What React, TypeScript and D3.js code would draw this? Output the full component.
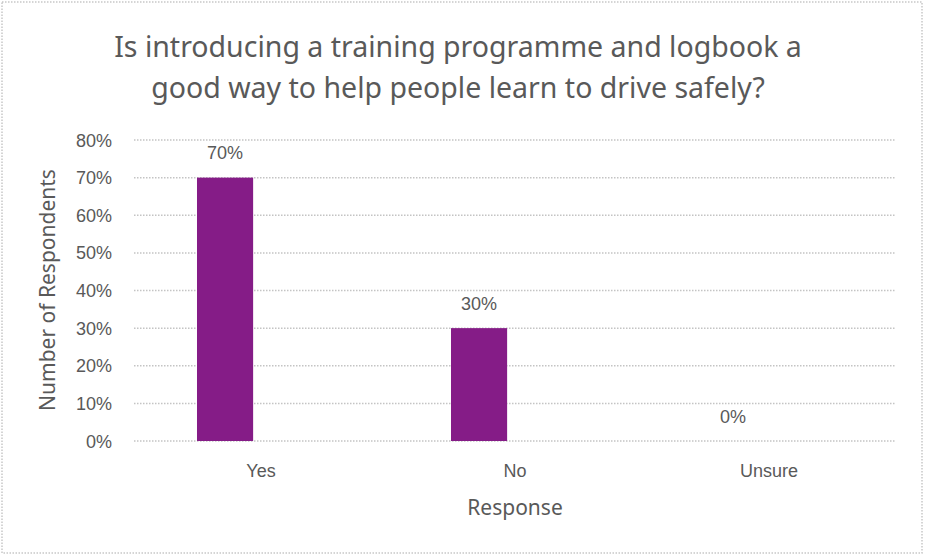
import * as React from 'react';
import { scaleBand, scaleLinear } from 'd3';

const categories = ['Yes', 'No', 'Unsure'];
const values = [0.7, 0.3, 0];
const yTicks = [0, 0.1, 0.2, 0.3, 0.4, 0.5, 0.6, 0.7, 0.8];
const titleLines = [
    'Is introducing a training programme and logbook a',
    'good way to help people learn to drive safely?'
];

const W = 925;
const H = 556;
const plot = { left: 134, right: 896, top: 140, bottom: 441 };
const textColor = '#595959';
const titleFont = '"Noto Sans", "Open Sans", sans-serif';
const tickFont = '"Liberation Sans", Arial, sans-serif';

const xScale = scaleBand<string>()
    .domain(categories)
    .range([plot.left, plot.right]);

const yScale = scaleLinear()
    .domain([0, 0.8])
    .range([plot.bottom, plot.top]);

// bars sit in the left slot of each category (second series is empty)
const barOffset = 0.248;
const barWidth = 0.221;

const pct = (v: number) => `${Math.round(v * 100)}%`;

export default function App() {
    const bw = xScale.bandwidth();
    return (
        <svg width={W} height={H} style={{ position: 'absolute', left: 0, top: 0, background: '#fff' }}>
            <rect x={2} y={2} width={W - 5} height={H - 5} fill="#fff" stroke="#c8c8c8" strokeWidth={1.5} strokeDasharray="1.5,1.5" />
            <g fontFamily={titleFont} fill={textColor} fontSize={28.5} textAnchor="middle">
                {titleLines.map((t, i) => (
                    <text key={i} x={458} y={57 + i * 41}>{t}</text>
                ))}
            </g>
            <g>
                {yTicks.map(t => (
                    <g key={t}>
                        <line x1={plot.left} x2={plot.right} y1={yScale(t)} y2={yScale(t)}
                            stroke="#c4c4c4" strokeWidth={1.5} strokeDasharray="1.5,1.5" />
                        <text x={112} y={yScale(t) + 6.5} textAnchor="end" fontFamily={tickFont}
                            fontSize={18} fill={textColor}>{pct(t)}</text>
                    </g>
                ))}
            </g>
            <g>
                {categories.map((c, i) => {
                    const x0 = xScale(c)! + bw * barOffset;
                    const w = bw * barWidth;
                    const y0 = yScale(values[i]);
                    return (
                        <g key={c}>
                            <rect x={x0} y={y0} width={w} height={plot.bottom - y0} fill="#851c87" />
                            <text x={x0 + w / 2} y={y0 - 18.5} textAnchor="middle" fontFamily={tickFont}
                                fontSize={18} fill={textColor}>{pct(values[i])}</text>
                            <text x={xScale(c)! + bw / 2} y={477} textAnchor="middle" fontFamily={tickFont}
                                fontSize={18} fill={textColor}>{c}</text>
                        </g>
                    );
                })}
            </g>
            <text x={515} y={515} textAnchor="middle" fontFamily={titleFont} fontSize={21} fill={textColor}>Response</text>
            <text transform={`translate(55, 290) rotate(-90)`} textAnchor="middle" fontFamily={titleFont}
                fontSize={21} fill={textColor}>Number of Respondents</text>
        </svg>
    );
}
